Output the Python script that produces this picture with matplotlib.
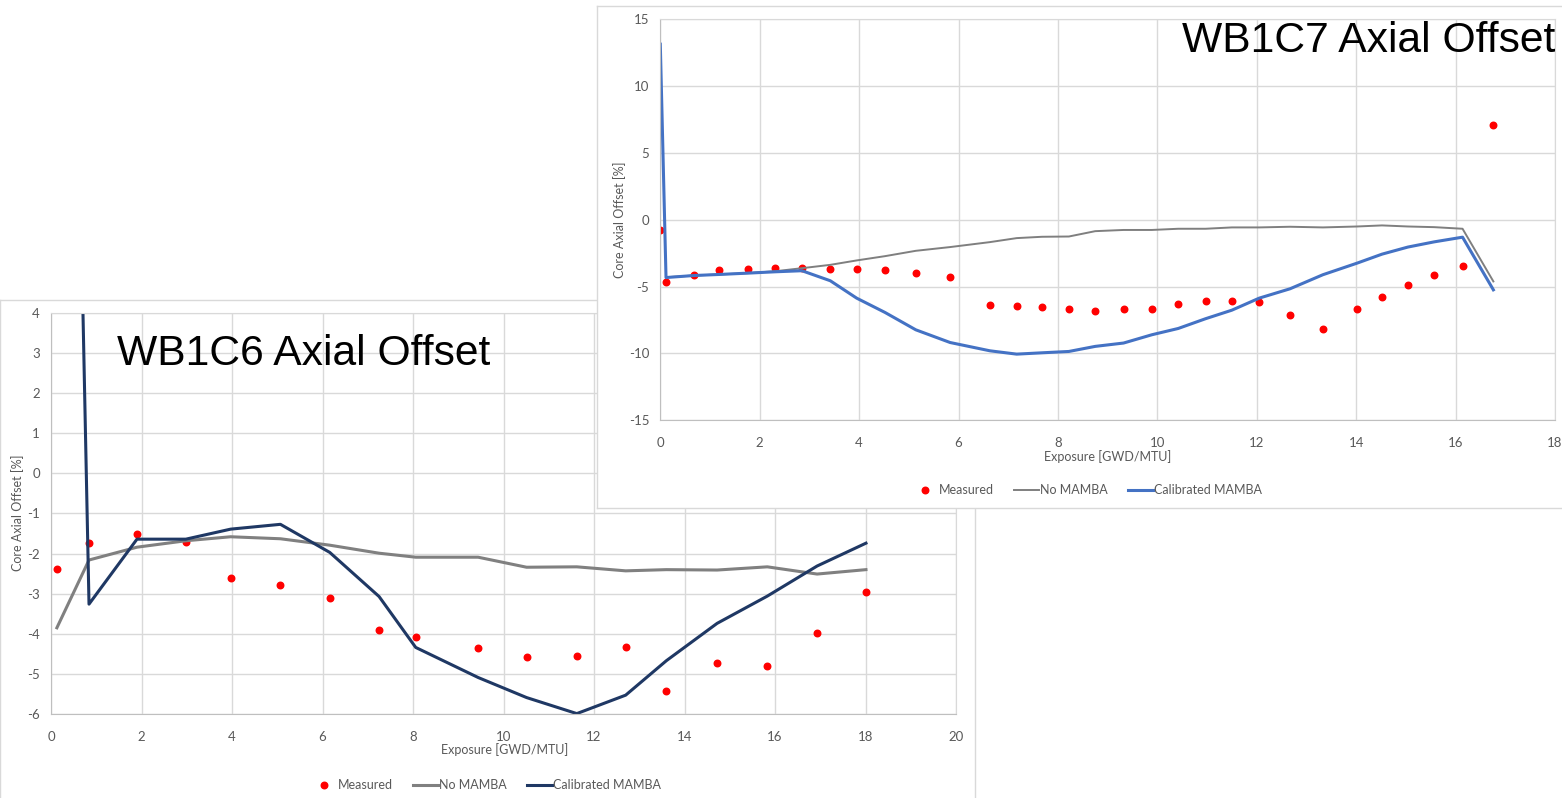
import matplotlib
matplotlib.use('Agg')
import matplotlib.pyplot as plt

plt.rcParams['axes.unicode_minus'] = False

# WB1C6 data (exposure in GWD/MTU, axial offset in %)
c6_exposure = [0.13, 0.84, 1.90, 2.98, 3.97, 5.07, 6.16, 7.25, 8.06, 9.44,
               10.51, 11.62, 12.70, 13.60, 14.72, 15.83, 16.93, 18.01]
c6_measured = [-2.39, -1.74, -1.52, -1.70, -2.60, -2.78, -3.11, -3.90, -4.09, -4.36,
               -4.59, -4.56, -4.32, -5.43, -4.74, -4.81, -3.97, -2.97]
c6_no_mamba = [-3.85, -2.16, -1.84, -1.68, -1.58, -1.63, -1.79, -1.99, -2.09, -2.09,
               -2.34, -2.33, -2.43, -2.40, -2.41, -2.33, -2.51, -2.40]
c6_calibrated = [35.4, -3.26, -1.64, -1.64, -1.39, -1.27, -1.97, -3.07, -4.34, -5.09,
                 -5.59, -5.99, -5.53, -4.67, -3.74, -3.06, -2.31, -1.74]

# WB1C7 data
c7_exposure = [0.00, 0.115, 0.67, 1.18, 1.76, 2.31, 2.85, 3.42, 3.95, 4.52, 5.14,
               5.83, 6.63, 7.17, 7.68, 8.22, 8.75, 9.32, 9.89, 10.42, 10.97,
               11.50, 12.05, 12.67, 13.33, 14.02, 14.52, 15.04, 15.57, 16.14, 16.76]
c7_measured = [-0.75, -4.66, -4.16, -3.74, -3.69, -3.62, -3.62, -3.69, -3.69, -3.74, -3.99,
               -4.29, -6.36, -6.46, -6.51, -6.66, -6.83, -6.71, -6.66, -6.33, -6.08,
               -6.08, -6.16, -7.13, -8.20, -6.71, -5.78, -4.86, -4.16, -3.42, 7.11]
c7_no_mamba = [-4.30, -4.17, -4.09, -3.99, -3.85, -3.62, -3.37, -3.04, -2.72, -2.32,
               -2.04, -1.67, -1.37, -1.27, -1.25, -0.85, -0.76, -0.76, -0.67, -0.67,
               -0.57, -0.57, -0.52, -0.57, -0.50, -0.42, -0.50, -0.55, -0.67, -4.61]
c7_calibrated = [13.14, -4.32, -4.17, -4.09, -3.99, -3.89, -3.81, -4.56, -5.86, -6.93, -8.23,
                 -9.18, -9.80, -10.05, -9.95, -9.85, -9.47, -9.22, -8.60, -8.13, -7.40,
                 -6.76, -5.86, -5.16, -4.11, -3.24, -2.57, -2.04, -1.65, -1.30, -5.24]

W, H = 1562, 798
fig = plt.figure(figsize=(W / 100, H / 100), dpi=100)
fig.patch.set_facecolor('white')

tick_font = 'Lato'
text_gray = '#595959'
grid_gray = '#D9D9D9'


def box(x0, y0, x1, y1):
    # pixel box (top-left origin) -> figure fraction
    return [x0 / W, 1 - y1 / H, (x1 - x0) / W, (y1 - y0) / H]


def panel(rect):
    p = fig.add_axes(rect)
    p.set_xticks([])
    p.set_yticks([])
    p.set_facecolor('white')
    for s in p.spines.values():
        s.set_color(grid_gray)
        s.set_linewidth(1)
    return p


def style_axes(ax, xlim, xstep, ylim, ystep):
    ax.set_xlim(*xlim)
    ax.set_ylim(*ylim)
    ax.set_xticks(range(xlim[0], xlim[1] + 1, xstep))
    ax.set_yticks(range(ylim[0], ylim[1] + 1, ystep))
    ax.grid(True, color=grid_gray, linewidth=1)
    ax.set_axisbelow(True)
    for s in ax.spines.values():
        s.set_color(grid_gray)
    ax.spines['left'].set_color('#BFBFBF')
    ax.spines['bottom'].set_color('#BFBFBF')
    ax.tick_params(length=0, labelsize=9.5, labelcolor=text_gray)
    ax.tick_params(axis='x', pad=12)
    ax.tick_params(axis='y', pad=8)
    for lab in ax.get_xticklabels() + ax.get_yticklabels():
        lab.set_fontfamily(tick_font)


def add_legend(ax, center):
    leg = ax.legend(loc='center', bbox_to_anchor=center, bbox_transform=fig.transFigure,
                    ncol=3, frameon=False, handlelength=2.0, handletextpad=0.1,
                    columnspacing=1.6, prop={'family': tick_font, 'size': 9})
    for t in leg.get_texts():
        t.set_color(text_gray)


# ---- WB1C6 ----
panel(box(0, 300, 975, 799))
ax1 = fig.add_axes(box(51, 313, 956, 714))
style_axes(ax1, (0, 20), 2, (-6, 4), 1)
ax1.plot(c6_exposure, c6_measured, 'o', color='#FF0000', markersize=4.7, label='Measured')
ax1.plot(c6_exposure, c6_no_mamba, color='#808080', linewidth=2.2, label='No MAMBA')
ax1.plot(c6_exposure, c6_calibrated, color='#1F3864', linewidth=2.2, label='Calibrated MAMBA')
add_legend(ax1, (486 / W, 1 - 785 / H))
fig.text(505 / W, 1 - 750 / H, 'Exposure [GWD/MTU]', ha='center', va='center',
         fontsize=9, color=text_gray, family=tick_font)
fig.text(18 / W, 1 - 513 / H, 'Core Axial Offset [%]', ha='center', va='center',
         rotation=90, fontsize=9, color=text_gray, family=tick_font)
fig.text(117 / W, 1 - 365 / H, 'WB1C6 Axial Offset', ha='left', va='baseline',
         fontsize=30.7, family='Liberation Sans', color='black')

# ---- WB1C7 ----
panel(box(597, 6, 1563, 508))
ax2 = fig.add_axes(box(660.3, 19.3, 1555, 420.3))
style_axes(ax2, (0, 18), 2, (-15, 15), 5)
ax2.plot(c7_exposure, c7_measured, 'o', color='#FF0000', markersize=4.7, label='Measured')
ax2.plot(c7_exposure[1:], c7_no_mamba, color='#7F7F7F', linewidth=1.4, label='No MAMBA')
ax2.plot(c7_exposure, c7_calibrated, color='#4472C4', linewidth=2.2, label='Calibrated MAMBA')
add_legend(ax2, (1087 / W, 1 - 490 / H))
fig.text(1108 / W, 1 - 457 / H, 'Exposure [GWD/MTU]', ha='center', va='center',
         fontsize=9, color=text_gray, family=tick_font)
fig.text(620 / W, 1 - 220 / H, 'Core Axial Offset [%]', ha='center', va='center',
         rotation=90, fontsize=9, color=text_gray, family=tick_font)
fig.text(1182 / W, 1 - 52 / H, 'WB1C7 Axial Offset', ha='left', va='baseline',
         fontsize=30.7, family='Liberation Sans', color='black')

fig.savefig('out.png', dpi=100)
